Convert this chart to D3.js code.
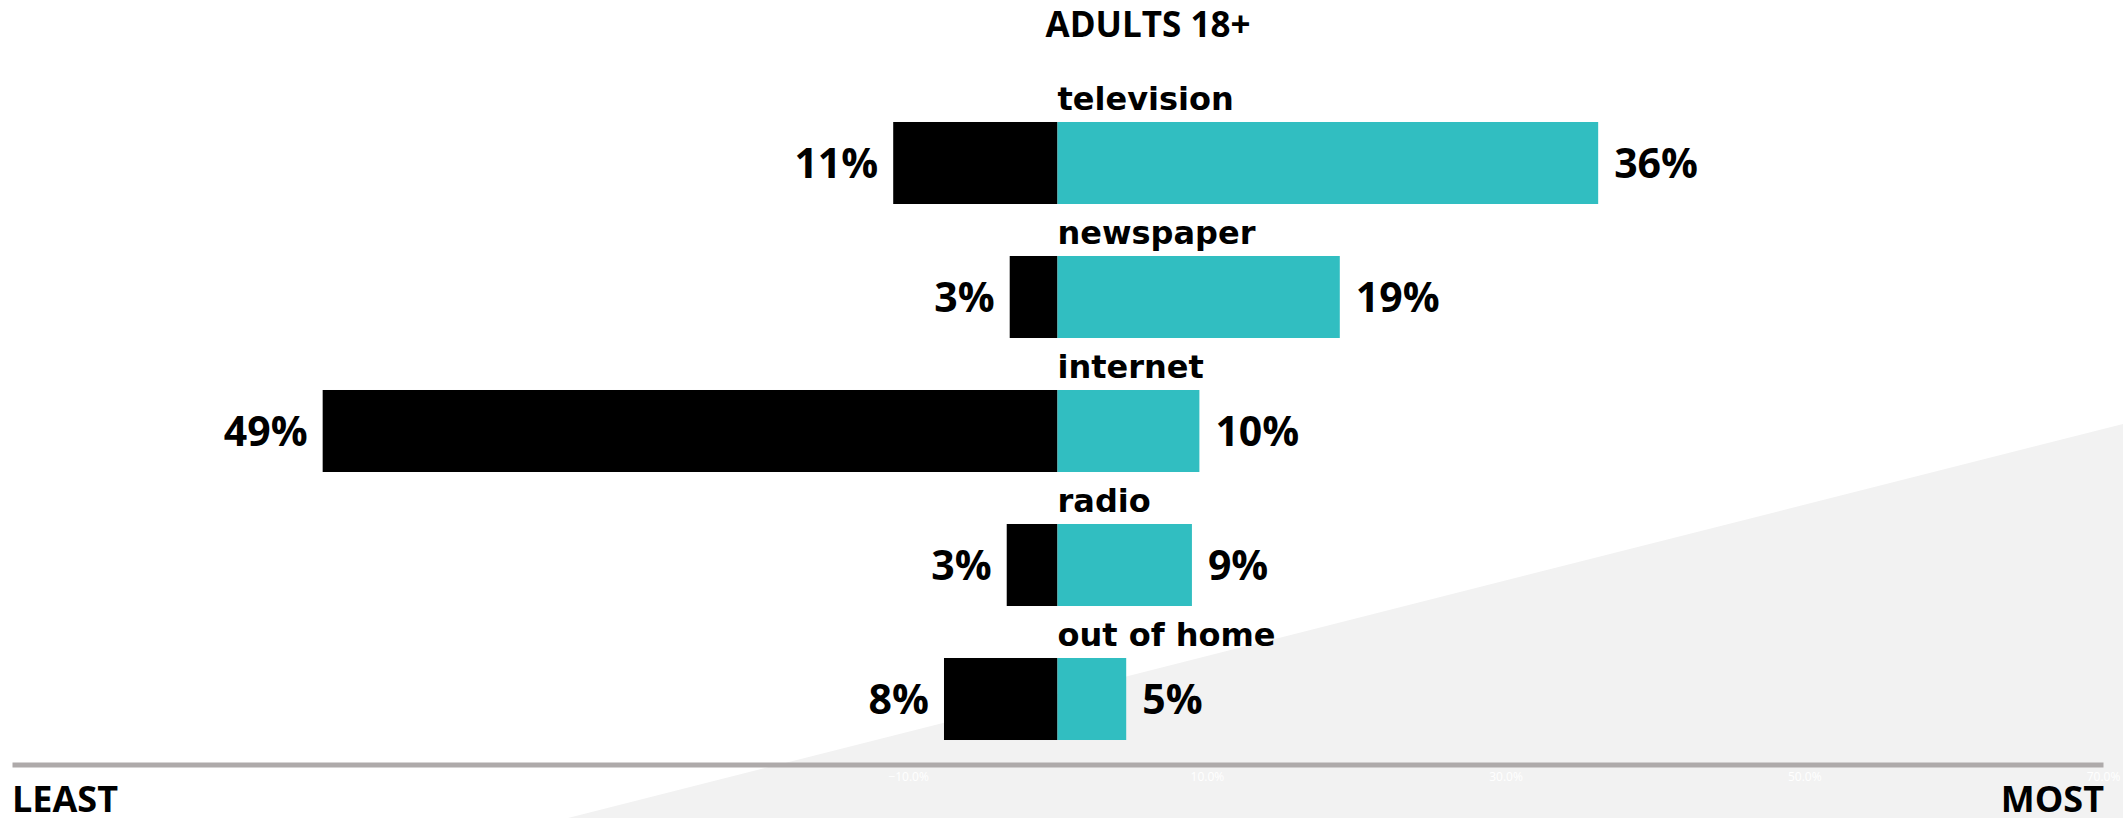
<!DOCTYPE html>
<html>
<head>
<meta charset="utf-8">
<script src="https://cdn.jsdelivr.net/npm/d3@7"></script>
<style>
  body { margin: 0; background: #fff; }
  svg { display: block; }
</style>
</head>
<body>
<div id="chart"></div>
<script>
// values (percent of adults 18+)
const categories = ["television", "newspaper", "internet", "radio", "out of home"];
const leastValues = [11, 3.2, 49.2, 3.4, 7.6];
const mostValues = [36.2, 18.9, 9.5, 9.0, 4.6];
const tickValues = [-70, -50, -30, -10, 10, 30, 50, 70];

const width = 2123, height = 818;

const svg = d3.select("#chart").append("svg")
  .attr("width", width)
  .attr("height", height);

// light grey wedge in the background
svg.append("polygon")
  .attr("points", "568,818 2123,424 2123,818")
  .attr("fill", "#f2f2f2");

const x = d3.scaleLinear().domain([-70, 70]).range([12, 2103]);

const y = d3.scaleBand()
  .domain(categories)
  .range([96, 766])
  .paddingInner(0.388)
  .paddingOuter(0.194);

const data = categories.map((c, i) => ({ cat: c, least: leastValues[i], most: mostValues[i] }));
const fmt = d3.format(".0f");

// axis line + faint tick labels
const axis = d3.axisBottom(x)
  .tickValues(tickValues)
  .tickSize(0)
  .tickFormat(d => d3.format(".1f")(d) + "%");

const axisG = svg.append("g")
  .attr("transform", "translate(0,764.5)")
  .call(axis);

axisG.select(".domain")
  .attr("stroke", "#aeaaaa")
  .attr("stroke-width", 5);

axisG.selectAll(".tick text")
  .attr("fill", "#ffffff")
  .attr("dy", "1.1em")
  .style("font-family", "Open Sans")
  .style("font-size", "12px");

const rows = svg.selectAll(".row")
  .data(data)
  .enter()
  .append("g")
  .attr("class", "row");

rows.append("rect")
  .attr("x", d => x(-d.least))
  .attr("y", d => y(d.cat))
  .attr("width", d => x(0) - x(-d.least))
  .attr("height", y.bandwidth())
  .attr("fill", "#000000");

rows.append("rect")
  .attr("x", x(0))
  .attr("y", d => y(d.cat))
  .attr("width", d => x(d.most) - x(0))
  .attr("height", y.bandwidth())
  .attr("fill", "#31bec1");

rows.append("text")
  .attr("x", x(0))
  .attr("y", d => y(d.cat) - 12)
  .text(d => d.cat)
  .style("font-family", "DejaVu Sans")
  .style("font-weight", "bold")
  .style("font-size", "32px")
  .attr("fill", "#000");

rows.append("text")
  .attr("x", d => x(-d.least) - 15)
  .attr("y", d => y(d.cat) + y.bandwidth() / 2 + 15)
  .attr("text-anchor", "end")
  .text(d => fmt(d.least) + "%")
  .style("font-family", "Open Sans")
  .style("font-weight", "bold")
  .style("font-size", "41px");

rows.append("text")
  .attr("x", d => x(d.most) + 16)
  .attr("y", d => y(d.cat) + y.bandwidth() / 2 + 15)
  .text(d => fmt(d.most) + "%")
  .style("font-family", "Open Sans")
  .style("font-weight", "bold")
  .style("font-size", "41px");

// title and end labels
svg.append("text")
  .attr("x", 1148)
  .attr("y", 37)
  .attr("text-anchor", "middle")
  .text("ADULTS 18+")
  .style("font-family", "Open Sans")
  .style("font-weight", "bold")
  .style("font-size", "35px");

svg.append("text")
  .attr("x", 12)
  .attr("y", 812)
  .text("LEAST")
  .style("font-family", "Open Sans")
  .style("font-weight", "bold")
  .style("font-size", "36px");

svg.append("text")
  .attr("x", 2104)
  .attr("y", 812)
  .attr("text-anchor", "end")
  .text("MOST")
  .style("font-family", "Open Sans")
  .style("font-weight", "bold")
  .style("font-size", "36px");
</script>
</body>
</html>
